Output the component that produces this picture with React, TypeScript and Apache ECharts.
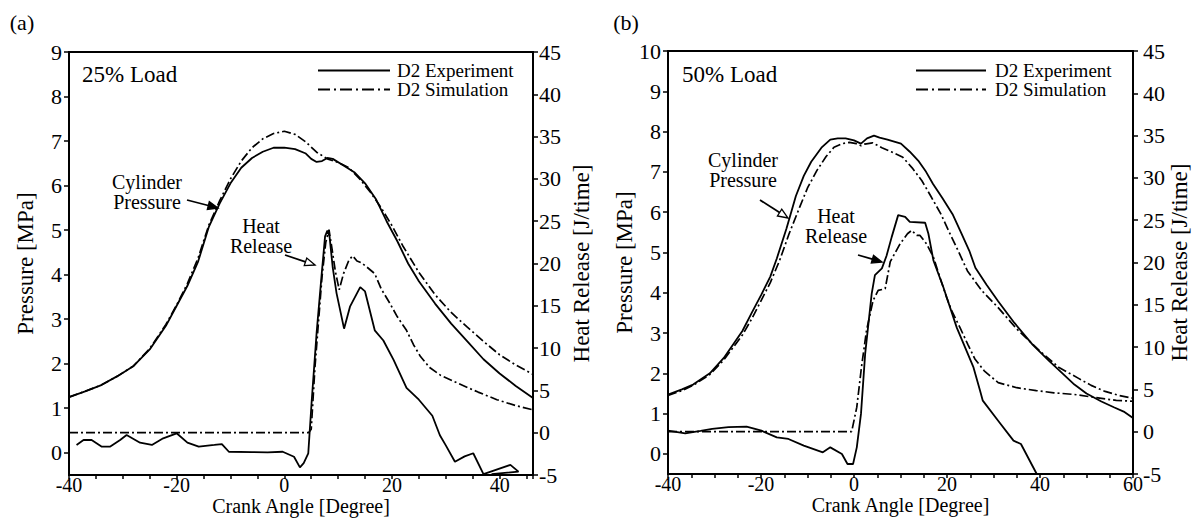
import React, { useEffect, useRef } from "react";
import * as echarts from "echarts";

const FONT = "Liberation Serif";
const LEGEND_NAMES = ["D2 Experiment", "D2 Simulation"];
const X_NAME = "Crank Angle [Degree]";
const Y_LEFT_NAME = "Pressure [MPa]";
const Y_RIGHT_NAME = "Heat Release [J/time]";
const PANEL_LABELS = ["(a)", "(b)"];
const LOAD_LABELS = ["25% Load", "50% Load"];
const NOTE_PRESSURE = "Cylinder\nPressure";
const NOTE_HEAT = "Heat\nRelease";
const PRESSURE_TICKS_A = [0, 1, 2, 3, 4, 5, 6, 7, 8, 9];
const PRESSURE_TICKS_B = [0, 1, 2, 3, 4, 5, 6, 7, 8, 9, 10];

// Panel (a) 25% load: [crank angle, value]
const aPressureExp: number[][] = [
  [-40, 1.25], [-37, 1.38], [-34, 1.52], [-31, 1.72], [-28, 1.95], [-25, 2.32], [-22, 2.85],
  [-20, 3.3], [-18, 3.75], [-16, 4.3], [-14, 5.08], [-12, 5.6], [-10, 6.05], [-8, 6.4],
  [-6, 6.62], [-4, 6.76], [-2, 6.85], [0, 6.85], [2, 6.82], [4, 6.72], [5, 6.6], [6, 6.53],
  [7, 6.55], [8, 6.62], [9, 6.6], [11, 6.45], [13, 6.3], [15, 6.05], [17, 5.7], [19, 5.2],
  [21, 4.75], [23, 4.25], [25, 3.85], [28, 3.35], [31, 2.9], [34, 2.5], [37, 2.1], [40, 1.78],
  [43, 1.5], [46.2, 1.23],
];
const aPressureSim: number[][] = [
  [-40, 1.25], [-37, 1.38], [-34, 1.52], [-31, 1.72], [-28, 1.95], [-25, 2.34], [-22, 2.88],
  [-20, 3.32], [-18, 3.8], [-16, 4.38], [-14, 5.12], [-12, 5.66], [-10, 6.15], [-8, 6.55],
  [-6, 6.85], [-4, 7.05], [-2, 7.17], [0, 7.22], [2, 7.15], [4, 6.98], [6, 6.75], [8, 6.6],
  [10, 6.52], [12, 6.4], [14, 6.15], [16, 5.85], [18, 5.5], [20, 5.1], [22, 4.65], [25, 4.05],
  [28, 3.55], [31, 3.15], [34, 2.82], [37, 2.5], [40, 2.2], [43, 1.97], [46.2, 1.76],
];
const aHeatExp: number[][] = [
  [-38.6, -1.45], [-37.3, -0.86], [-35.8, -0.86], [-33.9, -1.65], [-32.4, -1.65], [-30.5, -0.86],
  [-29.3, -0.27], [-26.8, -1.18], [-24.6, -1.45], [-22.5, -0.66], [-20, -0.07], [-18, -1.18],
  [-15.9, -1.65], [-13, -1.45], [-11.6, -1.34], [-10.3, -2.25], [-6, -2.3], [-3.1, -2.32],
  [-0.3, -2.25], [1.8, -2.84], [2.9, -4.1], [3.6, -3.6], [4.45, -2.43], [5.1, 3.87], [6.0, 11.8],
  [6.95, 18.8], [7.57, 23.2], [8.0, 23.9], [8.4, 23.2], [9.0, 19.5], [9.7, 16.5], [11.1, 12.3],
  [12.2, 14.9], [14.1, 17.2], [15.0, 16.7], [16.8, 12.1], [18.4, 10.9], [20.3, 8.6], [22.7, 5.3],
  [25, 3.9], [27.5, 2.0], [28.9, -0.3], [30, -1.5], [31.7, -3.43], [33.5, -2.8], [35.1, -2.43],
  [37, -4.9], [42, -3.8], [43.5, -4.6], [38.5, -4.9],
];
const aHeatSim: number[][] = [
  [-40, 0], [4.5, 0], [5.0, 0.4], [5.7, 7.8], [7.0, 18.4], [7.7, 22.5], [8.3, 24.0], [8.8, 22.0],
  [9.5, 19.0], [10.2, 16.9], [11, 18.8], [12, 20.4], [12.7, 20.9], [13.5, 20.3], [14.3, 20.1],
  [15.3, 19.6], [16.8, 18.8], [18, 17.0], [19.6, 15.3], [21, 13.7], [22.7, 12.1], [24, 10.4],
  [25.3, 9.0], [27, 7.7], [29, 6.8], [32.4, 5.8], [36, 4.8], [39.5, 3.9], [43, 3.2], [46.2, 2.7],
];

// Panel (b) 50% load
const bPressureExp: number[][] = [
  [-40, 1.47], [-37, 1.6], [-34.6, 1.72], [-31, 2.0], [-28, 2.38], [-24, 3.05], [-22, 3.5],
  [-19.9, 3.96], [-18, 4.4], [-16.6, 4.85], [-14.5, 5.6], [-12.5, 6.4], [-10.8, 6.9],
  [-9.2, 7.25], [-7, 7.6], [-5.1, 7.8], [-3.5, 7.83], [-1.8, 7.83], [0, 7.78], [1.5, 7.7],
  [2.8, 7.83], [4.3, 7.9], [5.5, 7.85], [7.2, 7.8], [10.1, 7.7], [12, 7.5], [13.8, 7.28],
  [15.5, 7.0], [17, 6.7], [19, 6.35], [21.2, 5.95], [23, 5.5], [24.8, 5.04], [26.1, 4.62],
  [28.5, 4.2], [31, 3.79], [34.5, 3.25], [38.4, 2.71], [42, 2.3], [45, 1.98], [47.4, 1.72],
  [50, 1.5], [53.2, 1.3], [56, 1.15], [58, 1.05], [60, 0.89],
];
const bPressureSim: number[][] = [
  [-40, 1.45], [-37, 1.57], [-34.6, 1.7], [-31, 1.97], [-28, 2.33], [-24, 2.95], [-22, 3.35],
  [-20, 3.8], [-18, 4.25], [-16, 4.8], [-14, 5.45], [-11.7, 6.12], [-10, 6.6], [-8, 7.03],
  [-6, 7.38], [-4.3, 7.61], [-2.5, 7.7], [-1, 7.73], [0.5, 7.7], [1.5, 7.65], [2.3, 7.69],
  [4, 7.72], [6, 7.6], [8, 7.5], [10.5, 7.36], [12.5, 7.1], [14.6, 6.78], [16.5, 6.4],
  [18.7, 5.95], [20.5, 5.5], [22.4, 5.04], [24.4, 4.54], [27.5, 4.05], [31, 3.63], [35, 3.1],
  [40, 2.55], [44, 2.15], [48.2, 1.88], [51, 1.7], [54, 1.55], [57, 1.45], [60, 1.38],
];
const bHeatExp: number[][] = [
  [-40, 0.12], [-36.3, -0.2], [-33, 0.1], [-30.5, 0.33], [-27, 0.55], [-23.1, 0.6], [-19.9, 0.12],
  [-16.6, -0.67], [-14.1, -0.86], [-10.8, -1.65], [-6.7, -2.44], [-5.1, -1.85], [-2.6, -2.63],
  [-1.4, -3.82], [-0.2, -3.82], [0.6, -1.85], [1.5, 2.1], [2.4, 9.2], [3.8, 16.3], [4.5, 18.5],
  [6.0, 19.3], [7.0, 20.8], [8.1, 23.0], [9.5, 25.6], [11.0, 25.4], [12.0, 24.8], [15.3, 24.7],
  [16, 23.4], [17.1, 20.2], [19.2, 17.1], [22.1, 12.3], [25.7, 7.6], [27.1, 4.86], [27.7, 3.67],
  [31, 1.3], [34.3, -1.06], [35.9, -1.45], [39.3, -5],
];
const bHeatSim: number[][] = [
  [-40, 0], [-0.5, 0], [0.6, 2.9], [1.6, 7.6], [2.7, 12.0], [4.1, 15.5], [5.2, 16.7], [6.7, 16.9],
  [7.8, 20.1], [9.9, 22.2], [11.5, 23.4], [12.4, 23.8], [13.5, 23.2], [14.2, 23.2], [15.6, 22.2],
  [17.1, 20.6], [18.5, 18.2], [19.9, 15.9], [21, 14.3], [22.8, 12.3], [24.5, 10.3], [26, 8.6],
  [28, 7.2], [31, 5.8], [35, 5.2], [39.2, 4.86], [43, 4.6], [47.4, 4.4], [51.5, 4.07],
  [56.4, 3.7], [60, 3.6],
];

const DASHDOT = [9, 3, 2, 3];

function xAxisCfg(gridIndex: number, min: number, max: number) {
  return {
    type: "value", gridIndex, min, max, interval: 5,
    axisLine: { onZero: false, lineStyle: { color: "#000", width: 2 } },
    axisTick: { show: true, inside: false, length: 4, lineStyle: { color: "#000", width: 1.5 } },
    axisLabel: {
      color: "#000", fontFamily: FONT, fontSize: 20, margin: 0,
      formatter: (v: number) => (Math.abs(v % 20) < 1e-9 ? String(v) : ""),
    },
    splitLine: { show: false },
    name: X_NAME, nameLocation: "middle", nameGap: 21, nameMoveOverlap: false,
    nameTextStyle: { color: "#000", fontFamily: FONT, fontSize: 20 },
  };
}
function yLeftCfg(gridIndex: number, max: number, ticks: number[]) {
  return {
    type: "value", gridIndex, min: -0.5, max, position: "left",
    axisLine: { show: true, onZero: false, lineStyle: { color: "#000", width: 2 } },
    axisTick: { show: true, inside: false, length: 5, customValues: ticks, lineStyle: { color: "#000", width: 1.5 } },
    axisLabel: { color: "#000", fontFamily: FONT, fontSize: 22, margin: 7, customValues: ticks },
    splitLine: { show: false },
    name: Y_LEFT_NAME, nameLocation: "middle", nameGap: 32, nameRotate: 90, nameMoveOverlap: false,
    nameTextStyle: { color: "#000", fontFamily: FONT, fontSize: 23 },
  };
}
function yRightCfg(gridIndex: number, gap: number, margin: number) {
  return {
    type: "value", gridIndex, min: -5, max: 45, interval: 5, position: "right",
    axisLine: { show: true, onZero: false, lineStyle: { color: "#000", width: 2 } },
    axisTick: { show: true, inside: false, length: 5, lineStyle: { color: "#000", width: 1.5 } },
    axisLabel: { color: "#000", fontFamily: FONT, fontSize: 22, margin },
    splitLine: { show: false },
    name: Y_RIGHT_NAME, nameLocation: "middle", nameGap: gap, nameRotate: 90, nameMoveOverlap: false,
    nameTextStyle: { color: "#000", fontFamily: FONT, fontSize: 23 },
  };
}
function lineSeries(name: string, data: number[][], xi: number, yi: number, dashed: boolean) {
  return {
    type: "line", name, data, xAxisIndex: xi, yAxisIndex: yi, symbol: "none",
    showSymbol: false, smooth: false, silent: true,
    lineStyle: { color: "#000", width: dashed ? 1.7 : 1.8, type: dashed ? DASHDOT : "solid" },
    itemStyle: { color: "#000" },
  };
}
function txt(text: string, x: number, y: number, size: number, align = "center", lineHeight?: number) {
  return {
    type: "text", x, y, z: 100,
    style: {
      text, fontFamily: FONT, fontSize: size, fill: "#000", align, verticalAlign: "middle",
      lineHeight: lineHeight ?? size,
    },
  };
}
function arrow(x1: number, y1: number, x2: number, y2: number, filled: boolean) {
  const dx = x2 - x1, dy = y2 - y1, L = Math.hypot(dx, dy);
  const ux = dx / L, uy = dy / L, hl = 10, hw = 4;
  const bx = x2 - ux * hl, by = y2 - uy * hl, px = -uy, py = ux;
  return [
    { type: "line", z: 100, shape: { x1, y1, x2: bx, y2: by }, style: { stroke: "#000", lineWidth: 1.8 } },
    {
      type: "polygon", z: 100,
      shape: { points: [[x2, y2], [bx + px * hw, by + py * hw], [bx - px * hw, by - py * hw]] },
      style: { fill: filled ? "#000" : "#fff", stroke: "#000", lineWidth: 1.3 },
    },
  ];
}
function legendBlock(lineX1: number, lineX2: number, textX: number, y1: number, y2: number) {
  return [
    { type: "line", z: 100, shape: { x1: lineX1, y1, x2: lineX2, y2: y1 }, style: { stroke: "#000", lineWidth: 2 } },
    txt(LEGEND_NAMES[0], textX, y1, 19, "left"),
    {
      type: "line", z: 100, shape: { x1: lineX1, y1: y2, x2: lineX2, y2 },
      style: { stroke: "#000", lineWidth: 2, lineDash: [12, 4, 2, 4] },
    },
    txt(LEGEND_NAMES[1], textX, y2, 19, "left"),
  ];
}

export default function App() {
  const ref = useRef<HTMLDivElement>(null);
  useEffect(() => {
    document.body.style.margin = "0";
    const chart = echarts.init(ref.current!, null, { renderer: "svg" });
    chart.setOption({
      animation: false,
      backgroundColor: "#fff",
      grid: [
        { left: 69, top: 52, width: 464, height: 423, show: true, borderColor: "#000", borderWidth: 2, outerBoundsMode: "none", containLabel: false },
        { left: 668, top: 51, width: 465, height: 423, show: true, borderColor: "#000", borderWidth: 2, outerBoundsMode: "none", containLabel: false },
      ],
      xAxis: [xAxisCfg(0, -40, 46.2), xAxisCfg(1, -40, 60)],
      yAxis: [
        yLeftCfg(0, 9, PRESSURE_TICKS_A), yRightCfg(0, 37, 6),
        yLeftCfg(1, 10, PRESSURE_TICKS_B), yRightCfg(1, 35, 10),
      ],
      series: [
        lineSeries(LEGEND_NAMES[0], aPressureExp, 0, 0, false),
        lineSeries(LEGEND_NAMES[1], aPressureSim, 0, 0, true),
        lineSeries(LEGEND_NAMES[0], aHeatExp, 0, 1, false),
        lineSeries(LEGEND_NAMES[1], aHeatSim, 0, 1, true),
        lineSeries(LEGEND_NAMES[0], bPressureExp, 1, 2, false),
        lineSeries(LEGEND_NAMES[1], bPressureSim, 1, 2, true),
        lineSeries(LEGEND_NAMES[0], bHeatExp, 1, 3, false),
        lineSeries(LEGEND_NAMES[1], bHeatSim, 1, 3, true),
      ],
      graphic: [
        txt(PANEL_LABELS[0], 22, 22, 22),
        txt(PANEL_LABELS[1], 626, 22, 22),
        txt(LOAD_LABELS[0], 82, 74, 23, "left"),
        txt(LOAD_LABELS[1], 682, 74, 23, "left"),
        txt(NOTE_PRESSURE, 147, 192, 20, "center", 20),
        txt(NOTE_HEAT, 261, 236, 20, "center", 20),
        txt(NOTE_PRESSURE, 743, 170, 20, "center", 20),
        txt(NOTE_HEAT, 836, 226, 20, "center", 20),
        ...arrow(187, 200, 218, 208, true),
        ...arrow(285, 255, 315, 265, false),
        ...arrow(760, 200, 788, 218, false),
        ...arrow(858, 255, 882, 262, true),
        ...legendBlock(318, 390, 397, 70.5, 89.5),
        ...legendBlock(916, 986, 995, 70.5, 89.5),
      ],
    });
    return () => chart.dispose();
  }, []);
  return <div ref={ref} style={{ width: 1197, height: 518 }} />;
}
